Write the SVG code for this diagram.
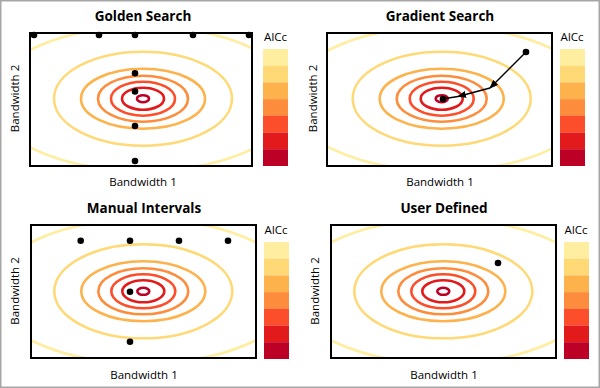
<svg xmlns="http://www.w3.org/2000/svg" xmlns:xlink="http://www.w3.org/1999/xlink" width="600" height="388" viewBox="0 0 600 388">
<style>
.title{font-family:"Open Sans","Noto Sans","Liberation Sans",sans-serif;font-size:13.5px;font-weight:bold;fill:#000;text-anchor:middle}
.lab{font-family:"Open Sans","Noto Sans","Liberation Sans",sans-serif;font-size:11.5px;fill:#000;text-anchor:middle}
.box{fill:none;stroke:#000;stroke-width:2}
.ring{fill:none;stroke-width:2.6}
.dot{fill:#000}
.arrow{fill:none;stroke:#000;stroke-width:1.5}
</style>
<defs>
<g id="rings">
<ellipse class="ring" rx="153" ry="72" stroke="#FFEDA0"/>
<ellipse class="ring" rx="89" ry="47" stroke="#FED976"/>
<ellipse class="ring" rx="62" ry="30" stroke="#FEB24C"/>
<ellipse class="ring" rx="45" ry="23" stroke="#FD8D3C"/>
<ellipse class="ring" rx="32" ry="17" stroke="#FC4E2A"/>
<ellipse class="ring" rx="21" ry="11" stroke="#E31A1C"/>
<ellipse class="ring" rx="6" ry="3.5" stroke="#BD0026"/>
</g>
<g id="cbar">
<rect x="0" y="0" width="25" height="16.8" fill="#FFEDA0"/>
<rect x="0" y="16.7" width="25" height="16.8" fill="#FED976"/>
<rect x="0" y="33.4" width="25" height="16.8" fill="#FEB24C"/>
<rect x="0" y="50.1" width="25" height="16.8" fill="#FD8D3C"/>
<rect x="0" y="66.8" width="25" height="16.8" fill="#FC4E2A"/>
<rect x="0" y="83.5" width="25" height="16.8" fill="#E31A1C"/>
<rect x="0" y="100.2" width="25" height="16.8" fill="#BD0026"/>
</g>
<clipPath id="c1"><rect x="30" y="33" width="222" height="133"/></clipPath>
<clipPath id="c2"><rect x="327" y="33" width="225" height="133"/></clipPath>
<clipPath id="c3"><rect x="31" y="225" width="225" height="133"/></clipPath>
<clipPath id="c4"><rect x="331" y="225" width="225" height="133"/></clipPath>
<marker id="ah" markerUnits="userSpaceOnUse" markerWidth="9" markerHeight="7" refX="8" refY="3.5" orient="auto"><path d="M0,0 L9,3.5 L0,7 z" fill="#000"/></marker>
</defs>
<rect x="0.75" y="0.75" width="598.5" height="386.5" fill="#fff" stroke="#a6a6a6" stroke-width="1.5"/>

<g id="golden-search">
<text class="title" x="143" y="20.5">Golden Search</text>
<g clip-path="url(#c1)"><use xlink:href="#rings" transform="translate(143,98.7)"/></g>
<rect class="box" x="30" y="33" width="222" height="133"/>
<g class="dot">
<circle cx="34" cy="35" r="3.3"/><circle cx="99" cy="35" r="3.3"/><circle cx="135" cy="35" r="3.3"/><circle cx="193" cy="35" r="3.3"/><circle cx="249" cy="35" r="3.3"/>
<circle cx="135" cy="73.3" r="3.3"/><circle cx="135" cy="91.5" r="3.3"/><circle cx="135" cy="126" r="3.3"/><circle cx="135" cy="161" r="3.3"/>
</g>
<text class="lab" x="275.5" y="40.5">AICc</text>
<use xlink:href="#cbar" transform="translate(263,49)"/>
<text class="lab" x="143" y="186">Bandwidth 1</text>
<text class="lab" transform="translate(19,98.5) rotate(-90)">Bandwidth 2</text>
</g>

<g id="gradient-search">
<text class="title" x="440" y="20.5">Gradient Search</text>
<g clip-path="url(#c2)"><use xlink:href="#rings" transform="translate(441.7,98.7)"/></g>
<rect class="box" x="327" y="33" width="225" height="133"/>
<text class="lab" x="572" y="40.5">AICc</text>
<use xlink:href="#cbar" transform="translate(560,49)"/>
<text class="lab" x="440" y="186">Bandwidth 1</text>
<text class="lab" transform="translate(317,98.5) rotate(-90)">Bandwidth 2</text>
</g>

<g id="manual-intervals">
<text class="title" x="144" y="213">Manual Intervals</text>
<g clip-path="url(#c3)"><use xlink:href="#rings" transform="translate(143.3,291.3)"/></g>
<rect class="box" x="31" y="225" width="225" height="133"/>
<g class="dot">
<circle cx="80.7" cy="240.7" r="3.3"/><circle cx="130" cy="240.7" r="3.3"/><circle cx="179" cy="240.7" r="3.3"/><circle cx="228" cy="240.7" r="3.3"/>
<circle cx="130" cy="291.7" r="3.3"/><circle cx="130" cy="341.7" r="3.3"/>
</g>
<text class="lab" x="276" y="233.5">AICc</text>
<use xlink:href="#cbar" transform="translate(264,242)"/>
<text class="lab" x="144" y="379">Bandwidth 1</text>
<text class="lab" transform="translate(19,291) rotate(-90)">Bandwidth 2</text>
</g>

<g id="user-defined">
<text class="title" x="444" y="213">User Defined</text>
<g clip-path="url(#c4)"><use xlink:href="#rings" transform="translate(443.3,291.3)"/></g>
<rect class="box" x="331" y="225" width="225" height="133"/>
<circle class="dot" cx="498" cy="263" r="3.3"/>
<text class="lab" x="576" y="233.5">AICc</text>
<use xlink:href="#cbar" transform="translate(564,242)"/>
<text class="lab" x="444" y="379">Bandwidth 1</text>
<text class="lab" transform="translate(319,291) rotate(-90)">Bandwidth 2</text>
</g>

<g id="connectors">
<circle class="dot" cx="526" cy="52" r="3.3"/>
<line class="arrow" x1="526" y1="52" x2="490" y2="88" marker-end="url(#ah)"/>
<line class="arrow" x1="490" y1="88" x2="458" y2="96.5" marker-end="url(#ah)"/>
<line class="arrow" x1="458" y1="96.5" x2="443.5" y2="98.8"/>
<circle class="dot" cx="443" cy="99" r="3.3"/>
</g>
</svg>
